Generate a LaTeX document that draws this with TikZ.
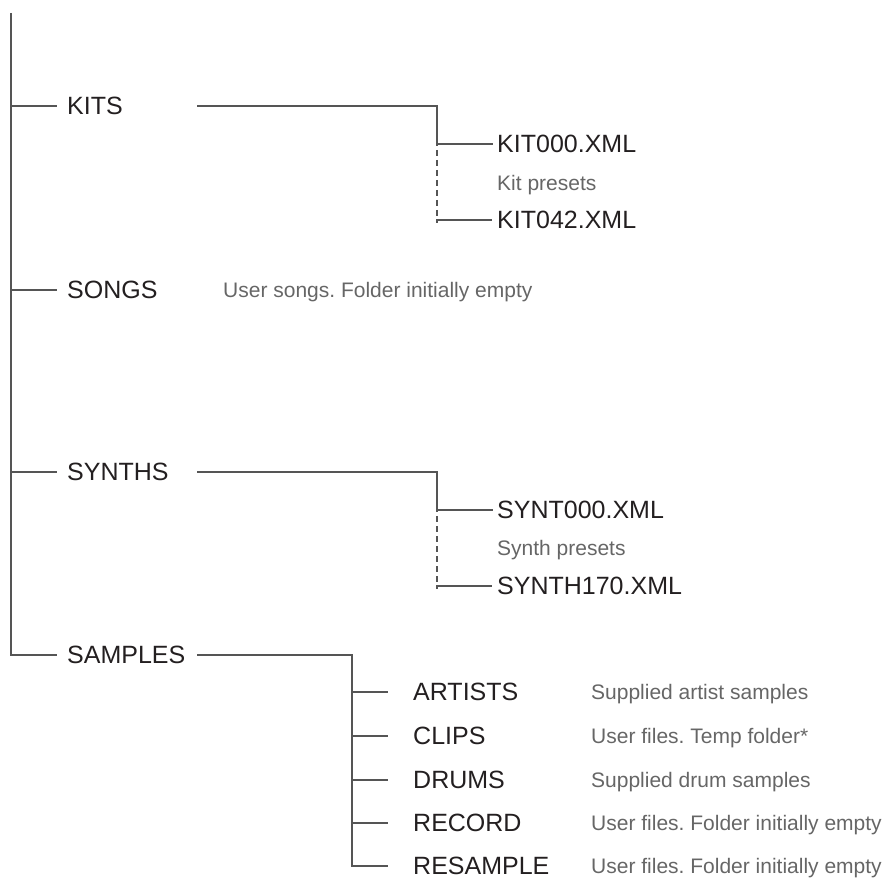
\documentclass[tikz,border=0pt]{standalone}
\usepackage{fontspec}
\setmainfont{Liberation Sans}
\frenchspacing
\definecolor{linecol}{HTML}{555555}
\definecolor{maincol}{HTML}{231F20}
\definecolor{desccol}{HTML}{666666}
\begin{document}
\begin{tikzpicture}[x=1pt,y=-1pt,
  lbl/.style={font=\fontsize{25}{29}\selectfont, text=maincol, inner sep=0pt, anchor=west, text height=17.9pt, text depth=0pt},
  desc/.style={font=\fontsize{21}{25}\selectfont, text=desccol, inner sep=0pt, anchor=west, text height=15pt, text depth=0pt},
  conn/.style={draw=linecol, line width=1.3pt},
  dconn/.style={draw=linecol, line width=1.3pt, dash pattern=on 6pt off 4pt}]
\useasboundingbox (0,0) rectangle (882,882);
% trunk
\coordinate (top) at (11,13);
% level 1
\node[lbl] (kits) at (67,106) {KITS};
\node[lbl] (songs) at (67,290) {SONGS};
\node[lbl] (synths) at (67,472) {SYNTHS};
\node[lbl] (samples) at (67,655) {SAMPLES};
\node[desc] (songsd) at (223,290) {User songs. Folder initially empty};
% kits subtree
\node[lbl] (k0) at (497,144) {KIT000.XML};
\node[desc] (kd) at (497,183) {Kit presets};
\node[lbl] (k42) at (497,220) {KIT042.XML};
% synths subtree
\node[lbl] (s0) at (497,510) {SYNT000.XML};
\node[desc] (sd) at (497,548) {Synth presets};
\node[lbl] (s170) at (497,586) {SYNTH170.XML};
% samples subtree
\node[lbl] (artists) at (413,692) {ARTISTS};
\node[lbl] (clips) at (413,736) {CLIPS};
\node[lbl] (drums) at (413,780) {DRUMS};
\node[lbl] (record) at (413,823) {RECORD};
\node[lbl] (resample) at (413,866) {RESAMPLE};
\node[desc] (artistsd) at (591,692) {Supplied artist samples};
\node[desc] (clipsd) at (591,736) {User files. Temp folder*};
\node[desc] (drumsd) at (591,780) {Supplied drum samples};
\node[desc] (recordd) at (591,823) {User files. Folder initially empty};
\node[desc] (resampled) at (591,866) {User files. Folder initially empty};
% connector helper coordinates
\coordinate (kitsR) at (197,106);
\coordinate (kv) at (437,106);
\coordinate (synthsR) at (197,472);
\coordinate (sv) at (437,472);
\coordinate (samplesR) at (197,655);
\coordinate (mv) at (352,655);
% trunk lines
\draw[conn] (top) -- (samples.west -| top) -- ([xshift=-10pt]samples.west);
\draw[conn] (kits.west -| top) -- ([xshift=-10pt]kits.west);
\draw[conn] (songs.west -| top) -- ([xshift=-10pt]songs.west);
\draw[conn] (synths.west -| top) -- ([xshift=-10pt]synths.west);
% kits
\draw[conn] (kitsR) -- (kv) -- (k0.west -| kv) -- ([xshift=-4pt]k0.west);
\draw[dconn] ([yshift=4pt]k0.west -| kv) -- ([yshift=-3pt]k42.west -| kv);
\draw[conn] ([yshift=-3pt]k42.west -| kv) -- (k42.west -| kv) -- ([xshift=-5pt]k42.west);
% synths
\draw[conn] (synthsR) -- (sv) -- (s0.west -| sv) -- ([xshift=-4pt]s0.west);
\draw[dconn] ([yshift=4pt]s0.west -| sv) -- ([yshift=-3pt]s170.west -| sv);
\draw[conn] ([yshift=-3pt]s170.west -| sv) -- (s170.west -| sv) -- ([xshift=-5pt]s170.west);
% samples
\draw[conn] (samplesR) -- (mv) -- (resample.west -| mv) -- ([xshift=-25pt]resample.west);
\foreach \n in {artists,clips,drums,record}
  \draw[conn] (\n.west -| mv) -- ([xshift=-25pt]\n.west);
\end{tikzpicture}
\end{document}
